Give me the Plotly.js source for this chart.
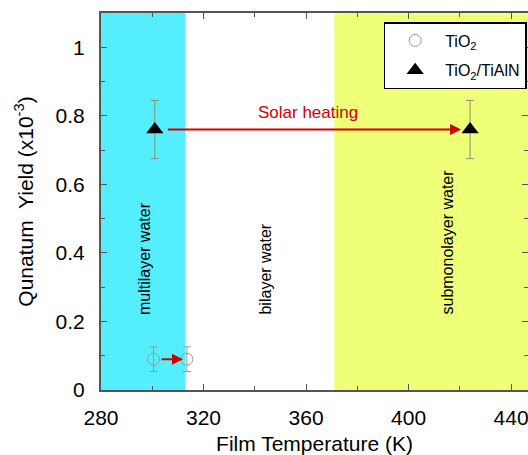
<!DOCTYPE html>
<html><head><meta charset="utf-8">
<script src="https://cdn.plot.ly/plotly-3.0.1.min.js"></script>
<style>html,body{margin:0;padding:0;background:#fff}</style>
</head><body>
<div id="chart" style="width:528px;height:455px"></div>
<script>
// Data
const tio2Temp = [300.5, 313.5];
const tio2Yield = [0.09, 0.09];
const tio2Err = [0.036, 0.036];
const tialnTemp = [301, 424];
const tialnYield = [0.76, 0.76];
const tialnErr = [0.085, 0.085];
// regions (K)
const regionBounds = [280, 313, 371, 460];
const regionLabels = ["multilayer water", "bilayer water", "submonolayer water"];
const regionLabelX = [297, 344, 415];
const regionColors = ["#55eeff", "rgba(0,0,0,0)", "#f0ff78"];

const shapes = [];
for (let i = 0; i < 3; i++) {
  if (regionColors[i] === "rgba(0,0,0,0)") continue;
  shapes.push({type: 'rect', xref: 'x', yref: 'paper', x0: regionBounds[i], x1: regionBounds[i+1], y0: 0, y1: 1,
    fillcolor: regionColors[i], line: {width: 0}, layer: 'below'});
}
const annotations = regionLabels.map((t, i) => ({
  text: t, x: regionLabelX[i], y: 0.213, xref: 'x', yref: 'y', textangle: -90,
  xanchor: 'center', yanchor: 'bottom', showarrow: false,
  font: {family: 'Liberation Sans, Arial, sans-serif', size: 16, color: '#000'}
}));
annotations.push({x: 420.5, y: 0.76, ax: 305.5, ay: 0.76, xref: 'x', yref: 'y', axref: 'x', ayref: 'y',
  showarrow: true, arrowhead: 2, arrowsize: 1.1, arrowwidth: 2, arrowcolor: '#d00000', text: '', standoff: 0, startstandoff: 0});
annotations.push({x: 312, y: 0.09, ax: 303, ay: 0.09, xref: 'x', yref: 'y', axref: 'x', ayref: 'y',
  showarrow: true, arrowhead: 2, arrowsize: 1.1, arrowwidth: 2, arrowcolor: '#d00000', text: '', standoff: 0, startstandoff: 0});
annotations.push({text: 'Solar heating', x: 360.6, y: 0.811, xref: 'x', yref: 'y', showarrow: false,
  font: {family: 'Liberation Sans, Arial, sans-serif', size: 17, color: '#d00000'}});

const traces = [
  {x: tio2Temp, y: tio2Yield, name: 'TiO<sub>2</sub>', mode: 'markers', type: 'scatter', legendgroup: 'a',
   marker: {symbol: 'circle-open', size: 12, color: '#999', line: {width: 1, color: '#999'}},
   error_y: {type: 'data', array: tio2Err, visible: true, color: '#999', thickness: 1, width: 4}},
  {x: tialnTemp, y: tialnYield, name: 'TiO<sub>2</sub>/TiAlN', mode: 'markers', type: 'scatter', legendgroup: 'b',
   marker: {symbol: 'triangle-up', size: 15, color: '#000'},
   error_y: {type: 'data', array: tialnErr, visible: true, color: '#8a8f70', thickness: 1, width: 4}}
];

const font = {family: 'Liberation Sans, Arial, sans-serif', color: '#000'};
const layout = {
  width: 528, height: 455,
  margin: {l: 101, r: 0, t: 13, b: 65, autoexpand: false},
  paper_bgcolor: '#fff', plot_bgcolor: '#fff',
  font: font,
  showlegend: true,
  legend: {x: 0.662, y: 0.976, xanchor: 'left', yanchor: 'top', bgcolor: '#fff', bordercolor: '#000', borderwidth: 1.5,
    font: {family: 'Liberation Sans, Arial, sans-serif', size: 16, color: '#000'}, itemwidth: 50, tracegroupgap: 6},
  xaxis: {range: [280, 446.6], tickvals: [280, 320, 360, 400, 440], ticks: 'inside', ticklen: 6, tickcolor: '#555',
    minor: {dtick: 20, ticks: 'inside', ticklen: 4, tickcolor: '#555'}, automargin: false, ticklabeloverflow: 'allow',
    showline: true, linecolor: '#555', linewidth: 2, mirror: 'ticks', showgrid: false, zeroline: false,
    tickfont: {size: 21}, ticklabelstandoff: 8,
    title: {text: 'Film Temperature (K)', font: {size: 21}, standoff: 13}},
  yaxis: {range: [0, 1.1], tickvals: [0, 0.2, 0.4, 0.6, 0.8, 1], ticktext: ['0', '0.2', '0.4', '0.6', '0.8', '1'],
    ticks: 'inside', ticklen: 6, tickcolor: '#555', automargin: false,
    minor: {dtick: 0.1, ticks: 'inside', ticklen: 4, tickcolor: '#555'},
    showline: true, linecolor: '#555', linewidth: 2, mirror: 'ticks', showgrid: false, zeroline: false,
    tickfont: {size: 21}, ticklabelstandoff: 10,
    title: {text: 'Qunatum\u00a0 Yield (x10<sup>-3</sup>)', font: {size: 21}, standoff: 16}},
  shapes: shapes,
  annotations: annotations
};
Plotly.newPlot('chart', traces, layout, {displayModeBar: false, staticPlot: true});
</script>
</body></html>
